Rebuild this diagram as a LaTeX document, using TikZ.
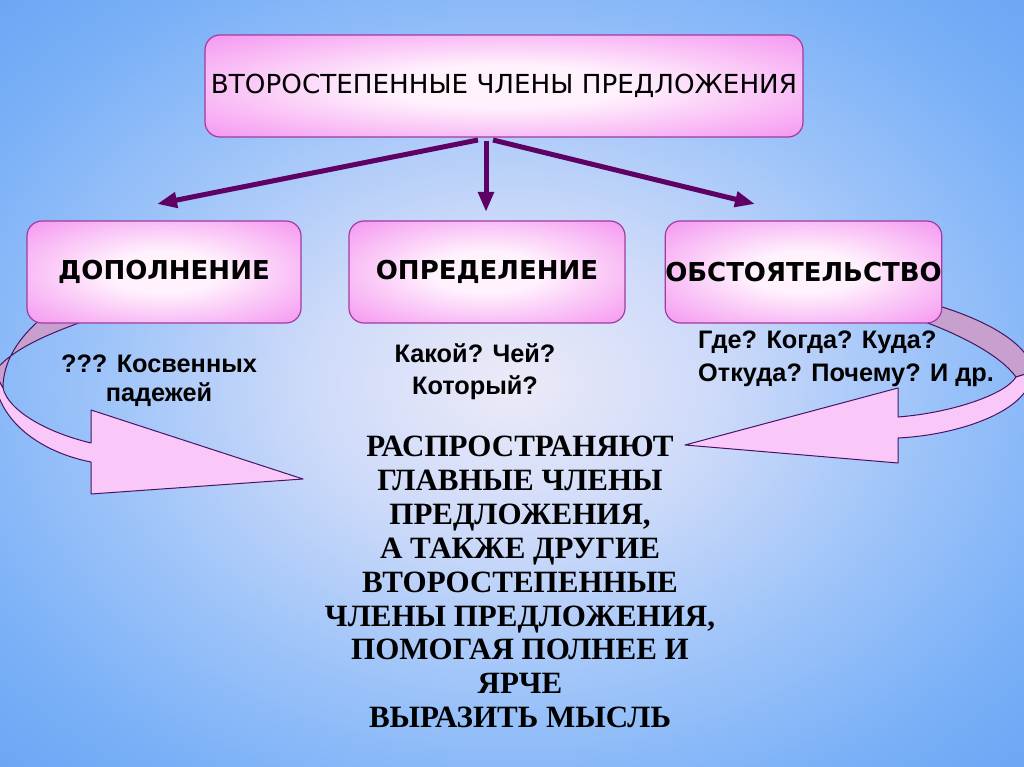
\documentclass[tikz,border=0pt]{standalone}
\usepackage{fontspec}
\setmainfont{Liberation Serif}
\newfontfamily\boxfont{DejaVu Sans}
\newfontfamily\labfont{Liberation Sans}
\usetikzlibrary{arrows.meta}
\definecolor{bga}{RGB}{236,234,248}
\definecolor{bgb}{RGB}{205,218,249}
\definecolor{bgc}{RGB}{158,196,249}
\definecolor{bgd}{RGB}{120,175,247}
\definecolor{bge}{RGB}{95,155,242}
\definecolor{bgf}{RGB}{78,138,234}
\definecolor{pkout}{RGB}{245,156,241}
\definecolor{pkin}{RGB}{255,242,253}
\definecolor{pkline}{RGB}{160,60,160}
\definecolor{arr}{RGB}{95,0,100}
\definecolor{bandf}{RGB}{250,200,248}
\definecolor{bandb}{RGB}{200,160,205}
\definecolor{bandl}{RGB}{70,20,100}
\pgfdeclareradialshading{bgshade}{\pgfpoint{0bp}{0bp}}{color(0bp)=(bga); color(10bp)=(bgb); color(20bp)=(bgc); color(30bp)=(bgd); color(42bp)=(bge); color(72bp)=(bgf)}
\pgfdeclareradialshading{boxshade}{\pgfpoint{0bp}{0bp}}{color(0bp)=(pkin); color(10bp)=(pkin); color(34bp)=(pkout); color(50bp)=(pkout)}
\tikzset{
  box/.style={draw=pkline, line width=1.2pt, rounded corners=15pt, shading=boxshade, inner sep=0pt, minimum height=102pt},
  boxtext/.style={font=\boxfont\bfseries\fontsize{26}{30}\selectfont},
  conn/.style={draw=arr, line width=5pt, -{Triangle[length=20pt,width=15pt]}},
  bandfront/.style={fill=bandf, draw=bandl, line width=1pt, line join=round},
  bandback/.style={fill=bandb, draw=bandl, line width=1pt, line join=round},
  lab/.style={inner sep=0pt},
}
\begin{document}
\begin{tikzpicture}[x=1pt,y=-1pt]
\useasboundingbox (0,0) rectangle (1024,767);
\shade[shading=bgshade] (0,0) rectangle (1024,767);

% left curved arrow
\path[bandback] (95,317) .. controls (60,330) and (15,345) .. (-6,372) -- (3,388)
  .. controls (3,362) and (18,338) .. (42,318) -- cycle;
\path[bandfront] (-6,372) .. controls (-5,420) and (40,452) .. (91,462) -- (91,494) -- (303,479)
  -- (91,410) -- (91,443) .. controls (45,432) and (8,410) .. (3,388) -- cycle;

% right curved arrow
\path[bandback] (925,302) .. controls (985,318) and (1032,345) .. (1032,372) -- (1016,377)
  .. controls (1000,355) and (960,335) .. (925,322) -- cycle;
\path[bandfront] (1032,372) .. controls (1032,410) and (960,435) .. (898,438) -- (898,463) -- (685,445)
  -- (898,388) -- (898,417) .. controls (950,413) and (1005,395) .. (1016,377) -- cycle;

% boxes
\node[box, minimum width=598pt, font=\boxfont\fontsize{26.2}{30}\selectfont] (top) at (504,86) {ВТОРОСТЕПЕННЫЕ ЧЛЕНЫ ПРЕДЛОЖЕНИЯ};
\node[box, boxtext, minimum width=274pt] (dop) at (164,272) {ДОПОЛНЕНИЕ};
\node[box, boxtext, minimum width=276pt] (opr) at (487,272) {ОПРЕДЕЛЕНИЕ};
\node[box, boxtext, minimum width=275pt] (obs) at (803.5,272) {ОБСТОЯТЕЛЬСТВО};

% connectors
\coordinate (s1) at (478,140);
\coordinate (s2) at (486,141);
\coordinate (s3) at (493,140);
\coordinate (e1) at (157,204);
\coordinate (e2) at (486,212);
\coordinate (e3) at (755,204);
\draw[conn] (s1) -- (e1);
\draw[conn] (s2) -- (e2);
\draw[conn] (s3) -- (e3);

% labels
\node[lab, align=center, font=\labfont\bfseries\fontsize{25.3}{29}\selectfont] (l1) at (159,380.5) {??? Косвенных\\падежей};
\node[lab, align=center, font=\labfont\bfseries\fontsize{25.3}{32}\selectfont] (l2) at (475,372) {Какой? Чей?\\Который?};
\node[lab, align=left, anchor=west, font=\labfont\bfseries\fontsize{25.3}{33}\selectfont] (l3) at (698,358.5) {Где? Когда? Куда?\\Откуда? Почему? И др.};

% main text
\node[font=\bfseries\fontsize{31}{33.9}\selectfont, align=center, inner sep=0pt] (main) at (520,582)
 {РАСПРОСТРАНЯЮТ\\ГЛАВНЫЕ ЧЛЕНЫ\\ПРЕДЛОЖЕНИЯ,\\А ТАКЖЕ ДРУГИЕ\\ВТОРОСТЕПЕННЫЕ\\ЧЛЕНЫ ПРЕДЛОЖЕНИЯ,\\ПОМОГАЯ ПОЛНЕЕ И\\ЯРЧЕ\\ВЫРАЗИТЬ МЫСЛЬ};
\end{tikzpicture}
\end{document}
